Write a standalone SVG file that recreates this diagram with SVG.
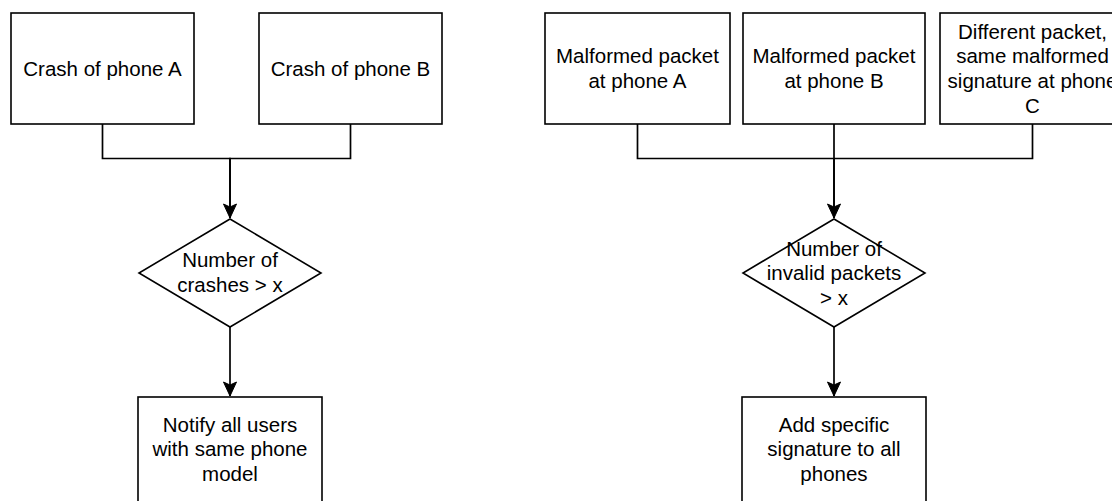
<svg xmlns="http://www.w3.org/2000/svg" width="1112" height="501" viewBox="0 0 1112 501">
<style>
  .box { fill: #fff; stroke: #000; stroke-width: 1.6; }
  .lbl { font-family: "Liberation Sans", Arial, sans-serif; font-size: 20.5px; fill: #000; text-anchor: middle; }
  .edge { fill: none; stroke: #000; stroke-width: 1.7; }
</style>
<defs>
  <marker id="arr" markerUnits="userSpaceOnUse" markerWidth="16" markerHeight="16" viewBox="-15 -8 16 16" refX="0" refY="0" orient="auto">
    <path d="M0,0 L-14,-6.5 L-11,0 L-14,6.5 Z" fill="#000" stroke="#000" stroke-width="1"/>
  </marker>
</defs>
<rect width="1112" height="501" fill="#fff"/>

<g id="connectors">
  <path class="edge" d="M102.5,124 V158.5 H230 V218" marker-end="url(#arr)"/>
  <path class="edge" d="M350.5,124 V158.5 H230 V218"/>
  <path class="edge" d="M230,327 V396" marker-end="url(#arr)"/>
  <path class="edge" d="M637.5,124 V158.5 H834 V218" marker-end="url(#arr)"/>
  <path class="edge" d="M834,124 V218"/>
  <path class="edge" d="M1032.5,124 V158.5 H834"/>
  <path class="edge" d="M834,327 V396" marker-end="url(#arr)"/>
</g>

<g id="crashA">
  <rect class="box" x="11" y="13" width="183" height="111"/>
  <text class="lbl" x="102.5" y="75.6">Crash of phone A</text>
</g>
<g id="crashB">
  <rect class="box" x="259" y="13" width="183" height="111"/>
  <text class="lbl" x="350.5" y="75.6">Crash of phone B</text>
</g>
<g id="crashDecision">
  <polygon class="box" points="230,219 321,273 230,327 139,273"/>
  <text class="lbl" x="230" y="267">Number of</text>
  <text class="lbl" x="230" y="291.5">crashes &gt; x</text>
</g>
<g id="notifyUsers">
  <rect class="box" x="138" y="397" width="184" height="120"/>
  <text class="lbl" x="230" y="431.7">Notify all users</text>
  <text class="lbl" x="230" y="456.3">with same phone</text>
  <text class="lbl" x="230" y="480.9">model</text>
</g>

<g id="malformedA">
  <rect class="box" x="545" y="13" width="185" height="111"/>
  <text class="lbl" x="637.5" y="63.3">Malformed packet</text>
  <text class="lbl" x="637.5" y="87.9">at phone A</text>
</g>
<g id="malformedB">
  <rect class="box" x="743" y="13" width="182" height="111"/>
  <text class="lbl" x="834" y="63.3">Malformed packet</text>
  <text class="lbl" x="834" y="87.9">at phone B</text>
</g>
<g id="differentC">
  <rect class="box" x="940" y="13" width="185" height="111"/>
  <text class="lbl" x="1032.5" y="38.7">Different packet,</text>
  <text class="lbl" x="1032.5" y="63.3">same malformed</text>
  <text class="lbl" x="1032.5" y="87.9">signature at phone</text>
  <text class="lbl" x="1032.5" y="112.5">C</text>
</g>
<g id="packetDecision">
  <polygon class="box" points="834,219 925,273 834,327 743,273"/>
  <text class="lbl" x="834" y="255.5">Number of</text>
  <text class="lbl" x="834" y="280.1">invalid packets</text>
  <text class="lbl" x="834" y="304.7">&gt; x</text>
</g>
<g id="addSignature">
  <rect class="box" x="742" y="397" width="184" height="120"/>
  <text class="lbl" x="834" y="431.7">Add specific</text>
  <text class="lbl" x="834" y="456.3">signature to all</text>
  <text class="lbl" x="834" y="480.9">phones</text>
</g>
</svg>
